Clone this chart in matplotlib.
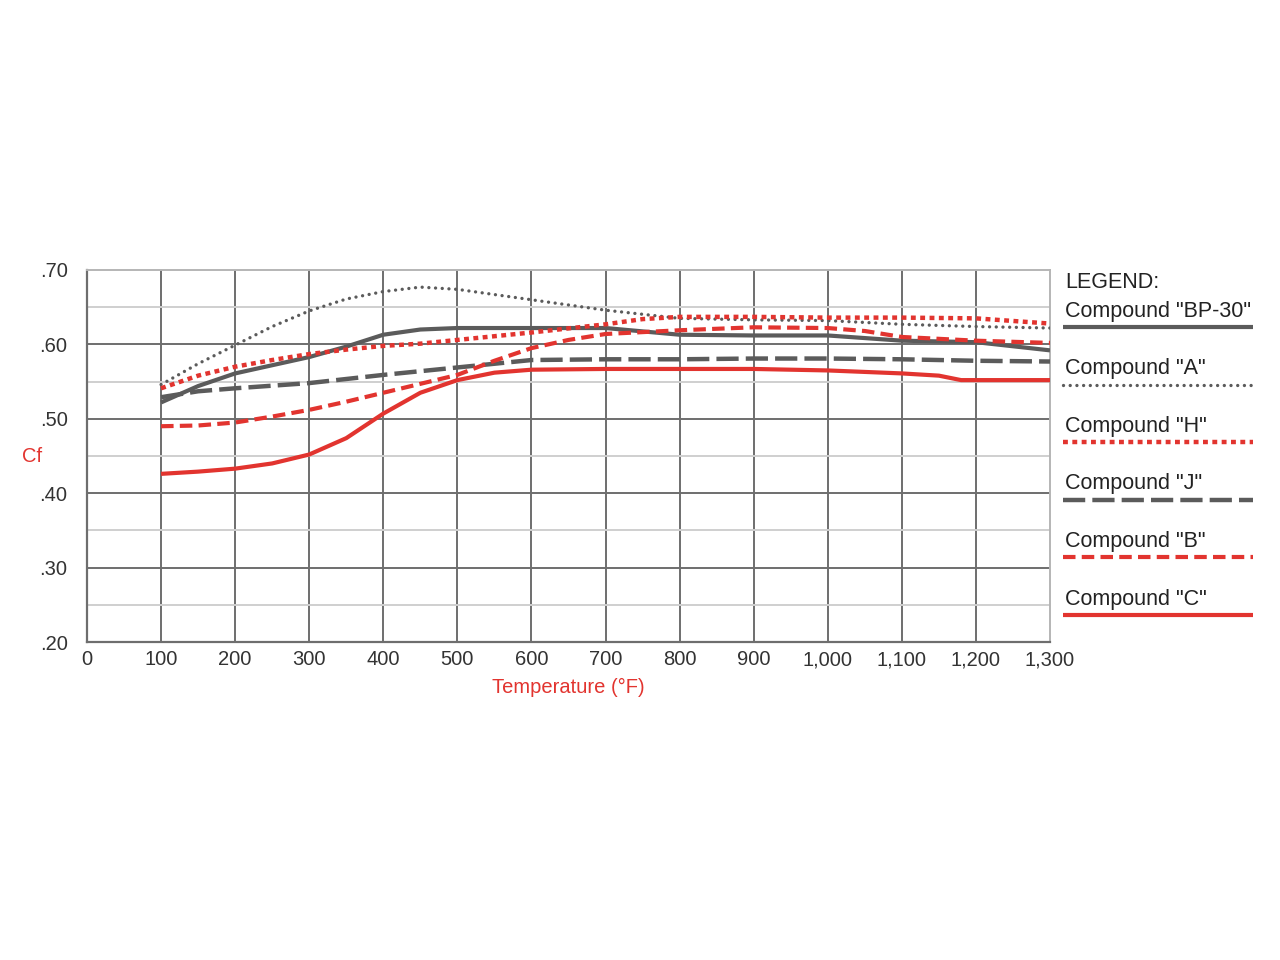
import matplotlib.pyplot as plt
from matplotlib.lines import Line2D
from matplotlib.ticker import MultipleLocator, FuncFormatter

plt.rcParams['font.family'] = ['Liberation Sans', 'DejaVu Sans']

GRAY = "#5b5b5b"
RED = "#e2342f"

# values, temperature in deg F
bp30_x = [100, 150, 200, 250, 300, 350, 400, 450, 500, 600, 700, 800, 900, 1000, 1100, 1200, 1300]
bp30_y = [.522, .544, .561, .572, .583, .597, .613, .620, .622, .622, .622, .613, .612, .612, .605, .603, .592]

a_x = [100, 150, 200, 250, 300, 350, 400, 450, 500, 550, 600, 700, 800, 900, 1000, 1100, 1200, 1300]
a_y = [.546, .574, .599, .624, .645, .661, .671, .677, .674, .667, .660, .646, .635, .633, .632, .627, .624, .622]

h_x = [100, 150, 200, 250, 300, 350, 400, 450, 500, 600, 700, 750, 800, 900, 1000, 1100, 1200, 1300]
h_y = [.541, .558, .570, .579, .587, .593, .598, .601, .606, .616, .627, .634, .637, .637, .636, .636, .635, .628]

j_x = [100, 150, 200, 300, 400, 500, 600, 700, 800, 900, 1000, 1100, 1200, 1300]
j_y = [.529, .537, .541, .548, .559, .569, .579, .580, .580, .581, .581, .580, .578, .577]

b_x = [100, 150, 200, 250, 300, 350, 400, 450, 500, 550, 600, 650, 700, 800, 900, 1000, 1050, 1100, 1200, 1300]
b_y = [.490, .491, .495, .503, .512, .523, .535, .547, .559, .578, .595, .606, .614, .619, .623, .622, .618, .610, .605, .602]

c_x = [100, 150, 200, 250, 300, 350, 400, 450, 500, 550, 600, 700, 800, 900, 1000, 1100, 1150, 1180, 1300]
c_y = [.426, .429, .433, .440, .452, .474, .507, .535, .552, .562, .566, .567, .567, .567, .565, .561, .558, .552, .552]

labels = ['Compound "BP-30"', 'Compound "A"', 'Compound "H"',
          'Compound "J"', 'Compound "B"', 'Compound "C"']

styles = [
    dict(color=GRAY, lw=3.0, ls="-", dash_capstyle="butt"),
    dict(color=GRAY, lw=2.4, ls=(0, (0.01, 2.0)), dash_capstyle="round"),
    dict(color=RED, lw=3.2, ls=(0, (1.1, 1.0)), dash_capstyle="butt"),
    dict(color=GRAY, lw=3.2, ls=(0, (5, 1.6)), dash_capstyle="butt"),
    dict(color=RED, lw=3.0, ls=(0, (3, 1.5)), dash_capstyle="butt"),
    dict(color=RED, lw=3.0, ls="-", dash_capstyle="butt"),
]

series = [(bp30_x, bp30_y), (a_x, a_y), (h_x, h_y), (j_x, j_y), (b_x, b_y), (c_x, c_y)]

fig = plt.figure(figsize=(12.8, 9.6), dpi=100)
ax = fig.add_axes([87 / 1280, 1 - 642 / 960, (1050 - 87) / 1280, (642 - 270) / 960])

# grid
ax.set_xlim(0, 1300)
ax.set_ylim(0.20, 0.70)
for gx in range(100, 1300, 100):
    ax.axvline(gx, color="#6e6e6e", lw=1.4, zorder=1)
for gy in [0.25, 0.35, 0.45, 0.55, 0.65]:
    ax.axhline(gy, color="#cfcfcf", lw=1.4, zorder=1)
for gy in [0.30, 0.40, 0.50, 0.60]:
    ax.axhline(gy, color="#6e6e6e", lw=1.4, zorder=1)

for (xs, ys), st in zip(series, styles):
    ax.plot(xs, ys, zorder=3, solid_capstyle="butt", **st)

for s in ["left", "bottom"]:
    ax.spines[s].set_color("#6e6e6e")
    ax.spines[s].set_linewidth(1.6)
for s in ["top", "right"]:
    ax.spines[s].set_color("#b5b5b5")
    ax.spines[s].set_linewidth(1.4)

ax.xaxis.set_major_locator(MultipleLocator(100))
ax.yaxis.set_major_locator(MultipleLocator(0.10))
ax.xaxis.set_major_formatter(FuncFormatter(lambda v, p: f"{int(v):,}"))
ax.yaxis.set_major_formatter(FuncFormatter(lambda v, p: f"{v:.2f}".lstrip("0")))
ax.tick_params(axis="x", length=0, pad=6, labelsize=14.5, colors="#333333")
ax.tick_params(axis="y", length=0, pad=14, labelsize=14.5, colors="#333333")

ax.set_xlabel("Temperature (°F)", color=RED, fontsize=14.5, labelpad=6)
ax.set_ylabel("Cf", color=RED, fontsize=14.5, rotation=0, labelpad=6, va="center")
ax.yaxis.set_label_coords(-0.057, 0.5)

# legend drawn beside the plot, sample line below each label
fig.text(1065 / 1280, 1 - 283 / 960, "LEGEND:", fontsize=15.5, color="#222222", va="center")
for i, (lab, st) in enumerate(zip(labels, styles)):
    ty = 311 + i * 57.6
    ly = ty + 16
    fig.text(1065 / 1280, 1 - ty / 960, lab, fontsize=15.5, color="#222222", va="center")
    fig.add_artist(Line2D([1063 / 1280, 1253 / 1280], [1 - ly / 960, 1 - ly / 960],
                          transform=fig.transFigure, solid_capstyle="butt", **st))

fig.savefig("out.png", dpi=100, facecolor="white")
